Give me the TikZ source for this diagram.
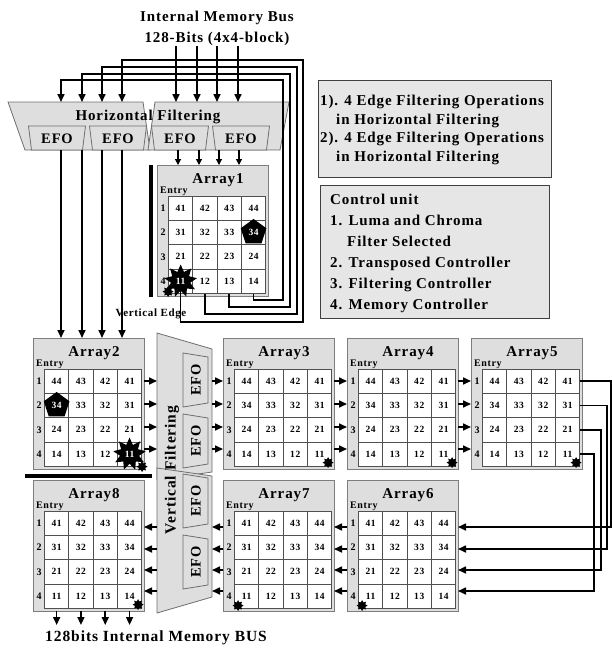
\documentclass[tikz,border=0pt]{standalone}
\usepackage{fontspec}
\setmainfont{Liberation Serif}[LetterSpace=6]
\usetikzlibrary{arrows.meta,shapes.geometric,calc}
\definecolor{fillgray}{RGB}{222,222,222}
\definecolor{boxline}{RGB}{125,125,125}
\definecolor{cellline}{RGB}{80,80,80}
\definecolor{trapline}{RGB}{110,110,110}
\definecolor{infofill}{RGB}{230,230,230}
\newcommand{\fs}[2]{\fontsize{#1}{#2}\selectfont\bfseries}
\tikzset{
  abox/.style={draw=boxline, fill=fillgray, line width=1pt, minimum width=111pt, minimum height=131pt, inner sep=0pt, outer sep=0pt},
  atitle/.style={font=\fs{15}{15}, inner sep=0pt},
  entrylbl/.style={font=\fs{10}{10}, anchor=west, inner sep=0pt},
  rowlbl/.style={font=\fs{10}{10}, inner sep=0pt},
  cellbox/.style={draw=cellline, fill=white, line width=0.8pt, minimum size=24.3pt, inner sep=0pt, font=\fs{9.5}{9.5}},
  arr/.style={-{Triangle[length=8pt,width=7pt]}, line width=1.6pt},
  arrs/.style={-{Triangle[length=6pt,width=6pt]}, line width=1.2pt},
  wire/.style={line width=1.6pt},
  trap/.style={draw=trapline, fill=fillgray, line width=0.8pt},
  efobox/.style={draw=trapline, fill=fillgray, line width=0.8pt},
  efotxt/.style={font=\fs{14.5}{14.5}, inner sep=0pt},
  pent/.style={regular polygon, regular polygon sides=5, fill=black, text=white, minimum size=27pt, inner sep=0pt, font=\fs{9.5}{9.5}},
  burst/.style={star, star points=9, star point ratio=1.7, fill=black, text=white, minimum size=33pt, inner sep=0pt, font=\fs{9.5}{9.5}},
  blob/.style={star, star points=8, star point ratio=1.6, fill=black, minimum size=11pt, inner sep=0pt},
  infobox/.style={draw=black!75, fill=infofill, line width=1pt, inner sep=0pt},
  infotxt/.style={font=\fs{15}{18.7}, align=left, inner sep=0pt, anchor=west},
  bigbar/.style={line width=4.5pt, line cap=butt}
}
\newcommand{\myarray}[5]{%
  \node[abox,anchor=north west] (#1) at (#2,#3) {};
  \node[atitle] (#1-title) at ($(#1.north west)+(61,15)$) {#4};
  \node[entrylbl] (#1-entry) at ($(#1.north west)+(3,26)$) {Entry};
  \foreach \r in {1,...,4}{
    \node[rowlbl] (#1-row\r) at ($(#1.north west)+(6,18.85+24.3*\r)$) {\r};
    \foreach \c in {1,...,4}{
      \pgfmathtruncatemacro{\num}{(5-\r)*10+ifthenelse(#5==1,5-\c,\c)}
      \node[cellbox] (#1-\r-\c) at ($(#1.north west)+(-0.65+24.3*\c,18.85+24.3*\r)$) {\num};
    }
  }
}
\begin{document}
\begin{tikzpicture}[x=1pt,y=-1pt]
\useasboundingbox (0,0) rectangle (612,648);
% named coordinates
\foreach \i/\xx in {1/61,2/82,3/102,4/122}{\coordinate (hl\i) at (\xx,102); \coordinate (ol\i) at (\xx,150);}
\foreach \i/\xx in {1/176,2/197,3/217,4/238}{\coordinate (hr\i) at (\xx,102);}
\foreach \i/\xx in {1/178,2/199,3/219,4/239}{\coordinate (or\i) at (\xx,150);}
\coordinate (vfl) at (157,0);
\coordinate (vfr) at (212,0);
\foreach \i/\yy in {1/381,2/404,3/427,4/449}{\coordinate (t\i) at (0,\yy);}
\foreach \i/\yy in {1/527,2/549,3/570,4/591}{\coordinate (b\i) at (0,\yy);}
\foreach \i/\xx in {1/611,2/607,3/601,4/594}{\coordinate (xr\i) at (\xx,0);}
\coordinate (outb) at (0,625);

% title
\node[font=\fs{15}{21}, align=center, inner sep=0pt] (bus) at (217,28) {Internal Memory Bus\\128-Bits (4x4-block)};

% horizontal filtering unit
\draw[trap] (8,102) -- (143,102) -- (150,150) -- (25,150) -- cycle;
\draw[trap] (155,102) -- (289,102) -- (280,150) -- (148,150) -- cycle;
\foreach \i/\cx in {1/57,2/118,3/180,4/241}{
  \draw[efobox] (\cx-28.5,126) -- (\cx+28.5,126) -- (\cx+25.5,150) -- (\cx-25.5,150) -- cycle;
  \node[efotxt] (hefo\i) at (\cx,139) {EFO};
}
\node[font=\fs{15}{15}, inner sep=0pt] (hftext) at (148,117) {Horizontal Filtering};

% vertical filtering unit
\draw[trap] (157,333) -- (212,349) -- (212,472) -- (157,480) -- cycle;
\draw[trap] (157,468) -- (212,476) -- (212,597) -- (157,613) -- cycle;
\foreach \i/\cy in {1/380,2/441,3/501,4/562}{
  \draw[efobox] (183,\cy-27) -- (208,\cy-23) -- (208,\cy+23) -- (183,\cy+27) -- cycle;
  \node[efotxt, rotate=90] (vefo\i) at (196,\cy) {EFO};
}
\node[font=\fs{15.5}{15.5}, inner sep=0pt, rotate=90] (vftext) at (172,470) {Vertical Filtering};

% arrays
\myarray{A1}{157}{165}{Array1}{0}
\myarray{A2}{33}{338}{Array2}{1}
\myarray{A3}{223}{338}{Array3}{1}
\myarray{A4}{347}{338}{Array4}{1}
\myarray{A5}{471}{338}{Array5}{1}
\myarray{A6}{347}{480}{Array6}{0}
\myarray{A7}{223}{480}{Array7}{0}
\myarray{A8}{33}{480}{Array8}{0}

% markers
\node[pent] (A1-pent) at (A1-2-4) {34};
\node[blob] (A1-blob) at ($(A1-4-1.south west)+(0,-2)$) {};
\node[burst] (A1-burst) at (A1-4-1) {11};
\node[pent] (A2-pent) at (A2-2-1) {34};
\node[burst] (A2-burst) at (A2-4-4) {11};
\node[blob] (A2-blob) at ($(A2-4-4.south east)+(0,0)$) {};
\foreach \a in {A3,A4,A5}{\node[blob] (\a-blob) at ($(\a-4-4.south east)+(-4,-4)$) {};}
\foreach \a in {A6,A7}{\node[blob] (\a-blob) at ($(\a-4-1.south west)+(4,-3)$) {};}
\node[blob] (A8-blob) at ($(A8-4-4.south east)+(-4,-4)$) {};

% edge bars
\draw[bigbar] (151,165) -- (151,297);
\node[font=\fs{11}{11}, inner sep=0pt] (vedge) at (151,314) {Vertical Edge};
\draw[bigbar] (25,476) -- (152,476);

% bus inputs
\foreach \i in {1,...,4}{\draw[arr] (bus.south -| hr\i) -- (hr\i);}
% feedback wires from Array1 to horizontal filtering
\draw[arr] (A1-4-4.south) |- (283,300) -- (283,80) -| (hl1);
\draw[arr] (A1-4-3.south) |- (290,307) -- (290,74) -| (hl2);
\draw[arr] (A1-4-2.south) |- (297,314) -- (297,67) -| (hl3);
\draw[arr] (A1-burst.south) |- (303,322) -- (303,60) -| (hl4);
% horizontal filtering outputs
\foreach \i in {1,...,4}{\draw[arrs] (or\i) -- (or\i |- A1.north);}
\foreach \i in {1,...,4}{\draw[arr] (ol\i) -- (ol\i |- A2.north);}

% top row flow
\foreach \i in {1,...,4}{
  \draw[arr] (A2.east |- t\i) -- (vfl |- t\i);
  \draw[arr] (vfr |- t\i) -- (A3.west |- t\i);
  \draw[arr] (A3.east |- t\i) -- (A4.west |- t\i);
  \draw[arr] (A4.east |- t\i) -- (A5.west |- t\i);
}
% Array5 to Array6
\foreach \i in {1,...,4}{
  \draw[arr] (A5-\i-4.east) -| (xr\i |- b\i) -- (A6.east |- b\i);
}
% bottom row flow
\foreach \i in {1,...,4}{
  \draw[arr] (A6.west |- b\i) -- (A7.east |- b\i);
  \draw[arr] (A7.west |- b\i) -- (vfr |- b\i);
  \draw[arr] (vfl |- b\i) -- (A8.east |- b\i);
}
\foreach \c in {1,...,4}{\draw[arr] (A8-4-\c |- A8.south) -- (A8-4-\c |- outb);}
\node[font=\fs{15.5}{15.5}, inner sep=0pt] (outbus) at (156,638) {128bits Internal Memory BUS};

% info boxes
\node[infobox, anchor=north west, minimum width=233pt, minimum height=97pt] (info1) at (318,80) {};
\node[infotxt] (info1txt) at (320,130) {1). 4 Edge Filtering Operations\\\hspace*{16pt}in Horizontal Filtering\\2). 4 Edge Filtering Operations\\\hspace*{16pt}in Horizontal Filtering};
\node[infobox, anchor=north west, minimum width=229pt, minimum height=133pt] (info2) at (320,185) {};
\node[infotxt, font=\fs{15}{21}] (info2txt) at (330,253) {Control unit\\1. Luma and Chroma\\\hspace*{17pt}Filter Selected\\2. Transposed Controller\\3. Filtering Controller\\4. Memory Controller};
\end{tikzpicture}
\end{document}
